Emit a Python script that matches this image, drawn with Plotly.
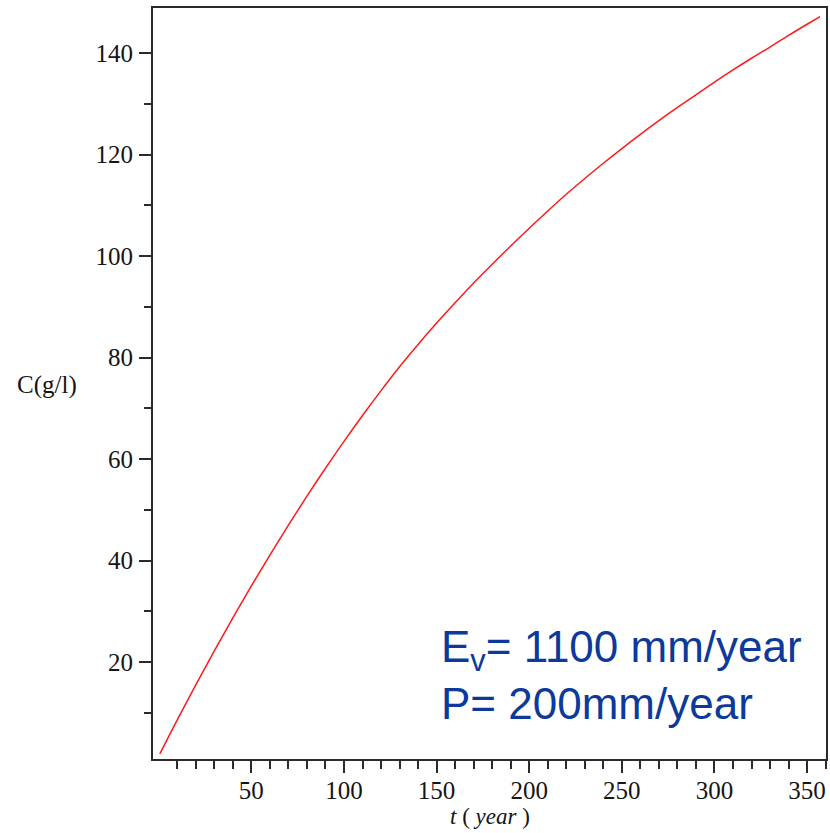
import plotly.graph_objects as go

# Data
t_years = [0.6, 10, 20, 30, 40, 50, 60, 70, 80, 90, 100, 110, 120, 130, 140, 150,
           160, 170, 180, 190, 200, 210, 220, 230, 240, 250, 260, 270, 280, 290,
           300, 310, 320, 330, 340, 350, 357]
conc_gl = [1.9, 8.6, 15.5, 22.2, 28.7, 35.0, 41.1, 47.0, 52.7, 58.2, 63.5, 68.6,
           73.5, 78.2, 82.6, 86.8, 90.8, 94.7, 98.4, 102.0, 105.5, 108.9, 112.2,
           115.3, 118.3, 121.2, 124.0, 126.7, 129.3, 131.8, 134.3, 136.7, 139.0,
           141.2, 143.5, 145.7, 147.2]

x_major = [50, 100, 150, 200, 250, 300, 350]
x_major_labels = ["50", "100", "150", "200", "250", "300", "350"]
x_minor = [10, 20, 30, 40, 60, 70, 80, 90, 110, 120, 130, 140, 160, 170, 180, 190,
           210, 220, 230, 240, 260, 270, 280, 290, 310, 320, 330, 340, 360]
y_major = [20, 40, 60, 80, 100, 120, 140]
y_major_labels = ["20", "40", "60", "80", "100", "120", "140"]
y_minor = [10, 30, 50, 70, 90, 110, 130]

fig = go.Figure()
fig.add_trace(go.Scatter(x=t_years, y=conc_gl, mode="lines",
                         line=dict(color="#ff1a1a", width=1.5, shape="spline"),
                         showlegend=False, hoverinfo="skip"))

tickfont = dict(family="Liberation Serif, Times New Roman, serif", size=25, color="#151515")
axis_common = dict(showgrid=False, zeroline=False, showline=True, linecolor="#2a2a2a",
                   linewidth=2, mirror=True, ticks="outside", tickwidth=2,
                   tickcolor="#2a2a2a", ticklen=12, tickfont=tickfont)

fig.update_xaxes(range=[-3.1, 360.2], tickmode="array", tickvals=x_major,
                 ticktext=x_major_labels, ticklabelstandoff=-4,
                 minor=dict(tickmode="array", tickvals=x_minor, ticks="outside",
                            ticklen=8, tickwidth=2, tickcolor="#2a2a2a", showgrid=False),
                 **axis_common)
fig.update_yaxes(range=[0.9, 148.9], tickmode="array", tickvals=y_major,
                 ticktext=y_major_labels, ticklabelstandoff=1,
                 minor=dict(tickmode="array", tickvals=y_minor, ticks="outside",
                            ticklen=7, tickwidth=2, tickcolor="#2a2a2a", showgrid=False),
                 **axis_common)

serif = "Liberation Serif, Times New Roman, serif"
fig.add_annotation(xref="paper", yref="paper", x=-0.157, y=0.498, showarrow=False,
                   text="C(g/l)", font=dict(family=serif, size=25, color="#151515"),
                   xanchor="center", yanchor="middle")
fig.add_annotation(xref="paper", yref="paper", x=0.5, y=-0.0772, showarrow=False,
                   text="<i>t</i> ( <i>year</i> )",
                   font=dict(family=serif, size=23, color="#151515"),
                   xanchor="center", yanchor="middle")

blue = "#0b3a9c"
sans = "Liberation Sans, Arial, sans-serif"
fig.add_annotation(xref="paper", yref="paper", x=0.425, y=0.1445, showarrow=False,
                   text="E<sub>v</sub>= 1100 mm/year",
                   font=dict(family=sans, size=44, color=blue),
                   xanchor="left", yanchor="middle")
fig.add_annotation(xref="paper", yref="paper", x=0.425, y=0.0739, showarrow=False,
                   text="P= 200mm/year",
                   font=dict(family=sans, size=44, color=blue),
                   xanchor="left", yanchor="middle")

fig.update_layout(width=830, height=833, margin=dict(l=153, r=2, t=8, b=74),
                  plot_bgcolor="white", paper_bgcolor="white")

fig.write_html("out.html")
